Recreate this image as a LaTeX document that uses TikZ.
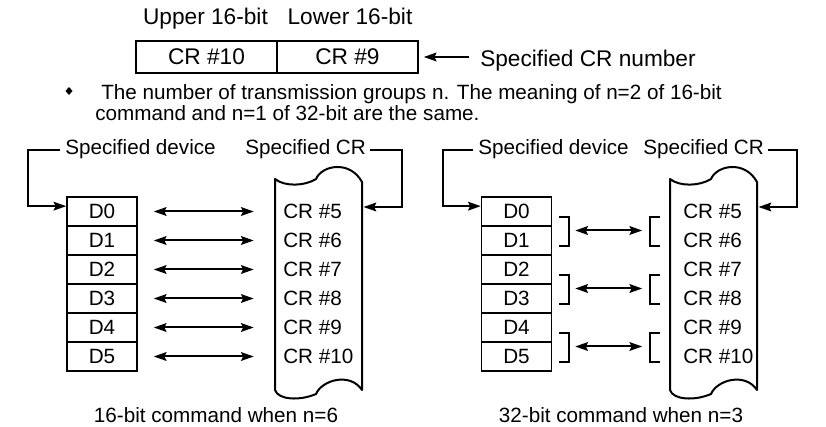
\documentclass[tikz,border=0pt]{standalone}
\usepackage{fontspec}
\setmainfont{Liberation Sans}
\usetikzlibrary{arrows.meta}
\tikzset{
  txt/.style={font=\fontsize{15.5}{18}\selectfont, inner sep=0pt},
  bigtxt/.style={font=\fontsize{17}{20}\selectfont, inner sep=0pt},
  cell/.style={draw, line width=1.1pt, minimum width=52.5pt, minimum height=21.75pt, inner sep=0pt, txt},
  topcell/.style={draw, line width=1.1pt, minimum width=105.75pt, minimum height=24pt, inner sep=0pt, bigtxt},
  brk/.style={line width=1.5pt},
  tip/.style={-{Stealth[length=9.5pt,width=6.5pt,inset=1.5pt]}},
  dbl/.style={{Stealth[length=9.5pt,width=6.5pt,inset=1.5pt]}-{Stealth[length=9.5pt,width=6.5pt,inset=1.5pt]}, line width=1.5pt},
  scroll/.pic={
    \draw[line width=1.5pt, line join=round]
      (0,0) .. controls (10,8) and (30,7) .. (41,0)
      .. controls (47,-14) and (75,-19) .. (87,3)
      -- (87,211)
      .. controls (75,193) and (47,201) .. (41,215)
      .. controls (25,222) and (3,221) .. (0,211) -- cycle;
    \coordinate (-e) at (88.5,28);
  }
}
\begin{document}
\begin{tikzpicture}[x=0.75pt,y=-0.75pt]
\useasboundingbox (0,0) rectangle (826,427);

% ---------- top part ----------
\node[bigtxt, anchor=base] (up) at (205.5,25) {Upper 16-bit};
\node[bigtxt, anchor=base] (lo) at (350,25) {Lower 16-bit};
\node[topcell] (u) at (206.5,57) {CR \#10};
\node[topcell] (l) at (347.5,57) {CR \#9};
\node[bigtxt, anchor=base west] (scn) at (480,67) {Specified CR number};
\draw[brk, tip] ([xshift=37.5pt]l.east) -- ([xshift=3.75pt]l.east);

% bullet text
\fill (69,87) -- (72.5,91) -- (69,95) -- (65.5,91) -- cycle;
\node[txt, anchor=base west] (b1) at (101,100) {The number of transmission groups n. The meaning of n=2 of 16-bit};
\node[txt, anchor=base west] (b2) at (95,121) {command and n=1 of 32-bit are the same.};

% ---------- left diagram ----------
\node[txt, anchor=base west] (sd1) at (65,155) {Specified device};
\node[txt, anchor=base west] (sc1) at (245,155) {Specified CR};
\foreach \i in {0,...,5}{
  \node[cell] (d\i) at (102,211.5+29*\i) {D\i};
}
\pic (sa) at (275,179) {scroll};
\foreach \i [evaluate=\i as \k using int(\i+5)] in {0,...,5}{
  \node[txt, anchor=west] (c\k) at (283,211.5+29*\i) {CR \#\k};
  \draw[dbl] ([xshift=12pt]d\i.east) -- ([xshift=87pt]d\i.east);
}
\coordinate (lk1) at (28,180);
\coordinate (rk1) at (402,180);
\draw[brk, tip] ([xshift=-4pt]sd1.west) -| (lk1) |- ([yshift=4pt]d0.west);
\draw[brk, tip] ([xshift=3pt]sc1.east) -| (rk1) |- (sa-e);
\node[txt, anchor=base] (cap1) at (216,423) {16-bit command when n=6};

% ---------- right diagram ----------
\node[txt, anchor=base west] (sd2) at (478,155) {Specified device};
\node[txt, anchor=base west] (sc2) at (643,155) {Specified CR};
\foreach \i in {0,...,5}{
  \node[cell] (e\i) at (516.5,211.5+29*\i) {D\i};
}
\pic (sb) at (670,179) {scroll};
\foreach \i [evaluate=\i as \k using int(\i+5)] in {0,...,5}{
  \node[txt, anchor=west] (k\k) at (683,211.5+29*\i) {CR \#\k};
}
\foreach \a/\b in {0/1,2/3,4/5}{
  \draw[brk] ([shift={(7,5.5)}]e\a.east) -- ++(10,0) |- ([shift={(7,5.5)}]e\b.east);
  \draw[brk] ([shift={(108,5.5)}]e\a.east) -- ++(-10,0) |- ([shift={(108,5.5)}]e\b.east);
  \draw[dbl] ([shift={(23,19)}]e\a.east) -- ([shift={(90,19)}]e\a.east);
}
\coordinate (lk2) at (443,180);
\coordinate (rk2) at (797,180);
\draw[brk, tip] ([xshift=-4pt]sd2.west) -| (lk2) |- ([yshift=4pt]e0.west);
\draw[brk, tip] ([xshift=3pt]sc2.east) -| (rk2) |- (sb-e);
\node[txt, anchor=base] (cap2) at (621,423) {32-bit command when n=3};
\end{tikzpicture}
\end{document}
